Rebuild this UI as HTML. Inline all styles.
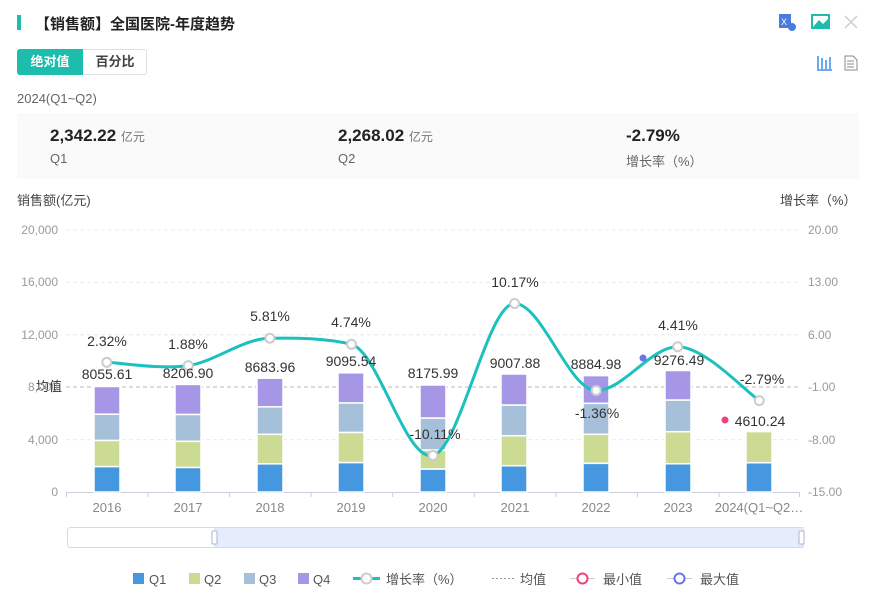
<!DOCTYPE html>
<html><head><meta charset="utf-8"><style>
body{margin:0;background:#fff;font-family:"Liberation Sans","Noto Sans CJK SC",sans-serif;}
.wrap{position:relative;width:874px;height:601px;overflow:hidden;}
.a{position:absolute;white-space:nowrap;}
</style></head><body><div class="wrap">
<div class="a" style="left:17px;top:15px;width:4px;height:15px;background:#1dbdad"></div>
<div class="a" style="left:35px;top:13px;font-size:15px;font-weight:bold;color:#222">【销售额】全国医院-年度趋势</div>
<div class="a" style="left:17px;top:49px;width:130px;height:26px;border:1px solid #dde1e6;border-radius:3px;box-sizing:border-box"></div>
<div class="a" style="left:17px;top:49px;width:66px;height:26px;background:#1dbdad;border-radius:3px 0 0 3px;color:#fff;font-size:13px;font-weight:bold;line-height:26px;text-align:center">绝对值</div>
<div class="a" style="left:83px;top:49px;width:64px;height:26px;color:#444;font-size:13px;font-weight:bold;line-height:26px;text-align:center">百分比</div>
<div class="a" style="left:17px;top:91px;font-size:13px;color:#666">2024(Q1~Q2)</div>
<div class="a" style="left:17px;top:113px;width:842px;height:66px;background:#fafafa"></div>
<div class="a" style="left:50px;top:126px;font-size:17px;font-weight:bold;color:#222">2,342.22 <span style="font-size:12px;font-weight:normal;color:#777">亿元</span></div>
<div class="a" style="left:50px;top:151px;font-size:13px;color:#666">Q1</div>
<div class="a" style="left:338px;top:126px;font-size:17px;font-weight:bold;color:#222">2,268.02 <span style="font-size:12px;font-weight:normal;color:#777">亿元</span></div>
<div class="a" style="left:338px;top:151px;font-size:13px;color:#666">Q2</div>
<div class="a" style="left:626px;top:126px;font-size:17px;font-weight:bold;color:#222">-2.79%</div>
<div class="a" style="left:626px;top:151px;font-size:13px;color:#666">增长率（%）</div>
<div class="a" style="left:17px;top:190px;font-size:13px;color:#444">销售额(亿元)</div>
<div class="a" style="left:780px;top:190px;font-size:13px;color:#444">增长率（%）</div>
<svg class="a" style="left:0;top:0" width="874" height="601" font-family="Liberation Sans, Noto Sans CJK SC, sans-serif">
<rect x="779" y="14" width="12" height="14" fill="#4a7be0"/><text x="781" y="25" font-size="9" fill="#fff">X</text><circle cx="792" cy="27" r="4" fill="#4a7be0"/>
<rect x="812" y="15" width="17" height="13" fill="none" stroke="#1dbdad" stroke-width="2"/><path d="M813 27 L819 20 L823 24 L828 19 L828 27Z" fill="#1dbdad"/>
<path d="M845 16 L857 28 M857 16 L845 28" stroke="#ccc" stroke-width="1.5"/>
<path d="M818 56 v13 M822 58 v11 M826 60 v9 M830 57 v12 M817 70 h15" stroke="#3a8ee6" stroke-width="1.5"/>
<path d="M845 56 h8 l4 4 v10 h-12z M847 61 h7 M847 64 h7 M847 67 h7" fill="none" stroke="#888" stroke-width="1"/>
<g stroke="#e6ecec" stroke-dasharray="4,3">
<line x1="66" y1="230" x2="800" y2="230"/><line x1="66" y1="282.4" x2="800" y2="282.4"/><line x1="66" y1="334.8" x2="800" y2="334.8"/><line x1="66" y1="439.6" x2="800" y2="439.6"/>
</g>
<line x1="66" y1="387" x2="800" y2="387" stroke="#bbb" stroke-dasharray="4,3"/>
<text x="36" y="391" font-size="13" fill="#333">均值</text>
<g font-size="12" fill="#999" text-anchor="end">
<text x="58" y="496">0</text><text x="58" y="444">4,000</text><text x="58" y="391">8,000</text><text x="58" y="339">12,000</text><text x="58" y="286">16,000</text><text x="58" y="234">20,000</text>
</g>
<g font-size="12" fill="#999">
<text x="808" y="496">-15.00</text><text x="808" y="444">-8.00</text><text x="808" y="391">-1.00</text><text x="808" y="339">6.00</text><text x="808" y="286">13.00</text><text x="808" y="234">20.00</text>
</g>
<line x1="66" y1="492.5" x2="800" y2="492.5" stroke="#ccd"/>
<g stroke="#ccd"><line x1="66.5" y1="492" x2="66.5" y2="497"/><line x1="148" y1="492" x2="148" y2="497"/><line x1="229.6" y1="492" x2="229.6" y2="497"/><line x1="311.2" y1="492" x2="311.2" y2="497"/><line x1="392.7" y1="492" x2="392.7" y2="497"/><line x1="474.3" y1="492" x2="474.3" y2="497"/><line x1="555.9" y1="492" x2="555.9" y2="497"/><line x1="637.4" y1="492" x2="637.4" y2="497"/><line x1="719" y1="492" x2="719" y2="497"/><line x1="799.5" y1="492" x2="799.5" y2="497"/></g>
<g font-size="13" fill="#888" text-anchor="middle">
<text x="107" y="512">2016</text><text x="188" y="512">2017</text><text x="270" y="512">2018</text><text x="351" y="512">2019</text><text x="433" y="512">2020</text><text x="515" y="512">2021</text><text x="596" y="512">2022</text><text x="678" y="512">2023</text><text x="759" y="512">2024(Q1~Q2…</text>
</g>
<g stroke="#fff" stroke-width="1.5">
<rect x="94" y="466.5" width="26" height="25.5" fill="#4598e0"/><rect x="94" y="440.4" width="26" height="26.1" fill="#cbdb93"/><rect x="94" y="414.2" width="26" height="26.2" fill="#a6c0da"/><rect x="94" y="386.5" width="26" height="27.7" fill="#a697e6"/>
<rect x="175" y="467.4" width="26" height="24.6" fill="#4598e0"/><rect x="175" y="441.3" width="26" height="26.1" fill="#cbdb93"/><rect x="175" y="414.4" width="26" height="26.9" fill="#a6c0da"/><rect x="175" y="384.4" width="26" height="30" fill="#a697e6"/>
<rect x="257" y="463.8" width="26" height="28.2" fill="#4598e0"/><rect x="257" y="434.3" width="26" height="29.5" fill="#cbdb93"/><rect x="257" y="406.8" width="26" height="27.5" fill="#a6c0da"/><rect x="257" y="378.2" width="26" height="28.6" fill="#a697e6"/>
<rect x="338" y="462.5" width="26" height="29.5" fill="#4598e0"/><rect x="338" y="432.4" width="26" height="30.1" fill="#cbdb93"/><rect x="338" y="402.9" width="26" height="29.5" fill="#a6c0da"/><rect x="338" y="372.8" width="26" height="30.1" fill="#a697e6"/>
<rect x="420" y="469" width="26" height="23" fill="#4598e0"/><rect x="420" y="450" width="26" height="19" fill="#cbdb93"/><rect x="420" y="418" width="26" height="32" fill="#a6c0da"/><rect x="420" y="385" width="26" height="33" fill="#a697e6"/>
<rect x="501" y="465.7" width="26" height="26.3" fill="#4598e0"/><rect x="501" y="435.7" width="26" height="30" fill="#cbdb93"/><rect x="501" y="405" width="26" height="30.7" fill="#a6c0da"/><rect x="501" y="374" width="26" height="31" fill="#a697e6"/>
<rect x="583" y="463.3" width="26" height="28.7" fill="#4598e0"/><rect x="583" y="434.3" width="26" height="29" fill="#cbdb93"/><rect x="583" y="403.3" width="26" height="31" fill="#a6c0da"/><rect x="583" y="375.6" width="26" height="27.7" fill="#a697e6"/>
<rect x="665" y="463.7" width="26" height="28.3" fill="#4598e0"/><rect x="665" y="431.7" width="26" height="32" fill="#cbdb93"/><rect x="665" y="400" width="26" height="31.7" fill="#a6c0da"/><rect x="665" y="370.5" width="26" height="29.5" fill="#a697e6"/>
<rect x="746" y="462.7" width="26" height="29.3" fill="#4598e0"/><rect x="746" y="431.6" width="26" height="31.1" fill="#cbdb93"/>
</g>
<path d="M106.8 362.3 C120.4 362.85 161.1 369.6 188.3 365.6 C215.5 361.6 242.7 338.5 269.9 338.2 C297.1 337.9 324.3 338 351.5 344.3 C378.7 352 405.8 462.3 433 455.5 C460.2 448.7 487.4 303.5 514.6 303.5 C541.8 303.5 569 390.5 596.2 390.5 C623.4 390.5 650.5 346.7 677.7 346.7 C704.9 346.7 745.7 391.6 759.3 400.6" fill="none" stroke="#1cc0bf" stroke-width="3"/>
<g fill="#fff" stroke="#ccc" stroke-width="2">
<circle cx="106.8" cy="362.3" r="4.5"/><circle cx="188.3" cy="365.6" r="4.5"/><circle cx="269.9" cy="338.2" r="4.5"/><circle cx="351.5" cy="344.3" r="4.5"/><circle cx="433" cy="455.5" r="4.5"/><circle cx="514.6" cy="303.5" r="4.5"/><circle cx="596.2" cy="390.5" r="4.5"/><circle cx="677.7" cy="346.7" r="4.5"/><circle cx="759.3" cy="400.6" r="4.5"/>
</g>
<circle cx="643" cy="358" r="3.5" fill="#6b74e6"/><circle cx="725" cy="420" r="3.5" fill="#f0417f"/>
<g font-size="14" fill="#333" text-anchor="middle">
<text x="107" y="346">2.32%</text><text x="188" y="349">1.88%</text><text x="270" y="321">5.81%</text><text x="351" y="327">4.74%</text><text x="435" y="439">-10.11%</text><text x="515" y="287">10.17%</text><text x="597" y="418">-1.36%</text><text x="678" y="330">4.41%</text><text x="762" y="384">-2.79%</text>
<text x="107" y="379">8055.61</text><text x="188" y="378">8206.90</text><text x="270" y="372">8683.96</text><text x="351" y="366">9095.54</text><text x="433" y="378">8175.99</text><text x="515" y="368">9007.88</text><text x="596" y="369">8884.98</text><text x="679" y="365">9276.49</text><text x="760" y="426">4610.24</text>
</g>
<rect x="67.5" y="527.5" width="736" height="20" rx="3" fill="#fff" stroke="#d2dbee"/>
<rect x="215" y="527.5" width="588" height="20" fill="#e5edfc" stroke="#d2dbee"/>
<rect x="212" y="531" width="5" height="13" rx="1" fill="#fff" stroke="#aab5cc"/>
<rect x="799" y="531" width="5" height="13" rx="1" fill="#fff" stroke="#aab5cc"/>
<g font-size="13" fill="#555">
<rect x="133" y="573" width="11" height="11" fill="#4598e0"/><text x="149" y="584">Q1</text>
<rect x="189" y="573" width="11" height="11" fill="#cbdb93"/><text x="204" y="584">Q2</text>
<rect x="244" y="573" width="11" height="11" fill="#a6c0da"/><text x="259" y="584">Q3</text>
<rect x="298" y="573" width="11" height="11" fill="#a697e6"/><text x="313" y="584">Q4</text>
<line x1="353" y1="578.5" x2="380" y2="578.5" stroke="#1cc0bf" stroke-width="3"/><circle cx="366.5" cy="578.5" r="5" fill="#fff" stroke="#ccc" stroke-width="2"/><text x="386" y="584">增长率（%）</text>
<line x1="492" y1="578.5" x2="514" y2="578.5" stroke="#999" stroke-dasharray="2,2"/><text x="520" y="584">均值</text>
<line x1="570" y1="578.5" x2="595" y2="578.5" stroke="#ccc"/><circle cx="582.5" cy="578.5" r="5" fill="#fff" stroke="#f0417f" stroke-width="2"/><text x="603" y="584">最小值</text>
<line x1="667" y1="578.5" x2="692" y2="578.5" stroke="#ccc"/><circle cx="679.5" cy="578.5" r="5" fill="#fff" stroke="#6b74e6" stroke-width="2"/><text x="700" y="584">最大值</text>
</g>
</svg>
</div></body></html>
